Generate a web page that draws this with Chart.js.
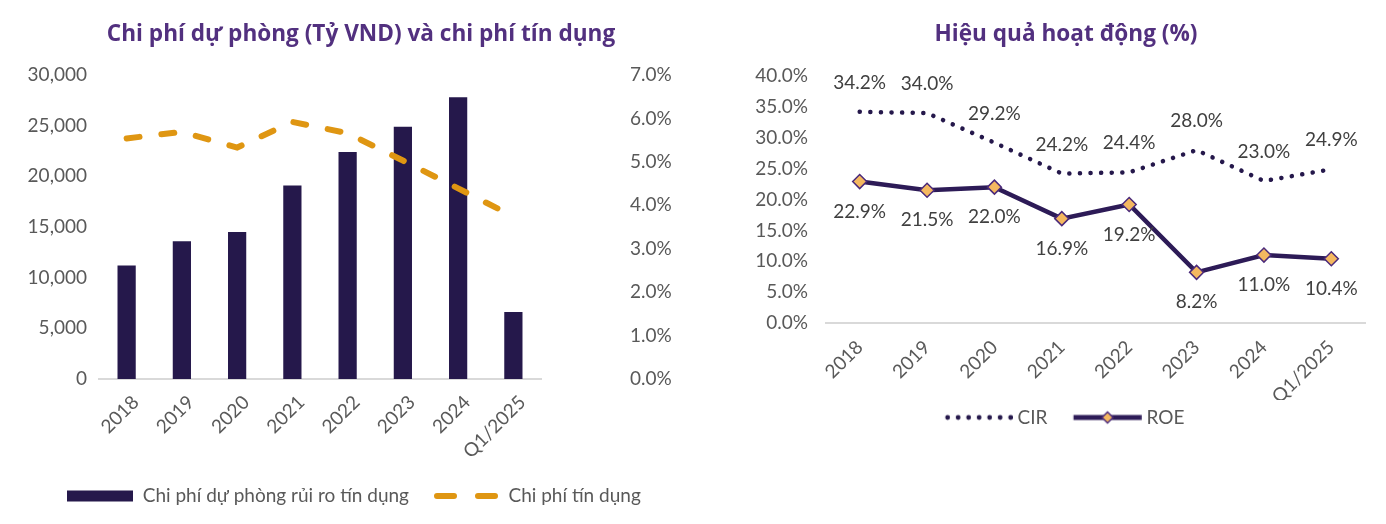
<!DOCTYPE html>
<html>
<head>
<meta charset="utf-8">
<script src="https://cdn.jsdelivr.net/npm/chart.js@4"></script>
<style>
  body { margin: 0; background: #fff; overflow: hidden; }
  .box { position: absolute; top: 0; height: 524px; }
  #left { left: 0; width: 721px; }
  #right { left: 746px; width: 640px; }
  .title {
    position: absolute; top: 20px; transform: translateX(-50%); white-space: nowrap;
    font: bold 22.6px/26px 'Open Sans', sans-serif; color: #52307F;
  }
</style>
</head>
<body>
<div class="box" id="left"><canvas id="costChart"></canvas></div>
<div class="box" id="right"><canvas id="perfChart"></canvas></div>
<div class="title" style="left:361px">Chi phí dự phòng (Tỷ VND) và chi phí tín dụng</div>
<div class="title" style="left:1066px">Hiệu quả hoạt động (%)</div>
<script>
// data
const years = ['2018', '2019', '2020', '2021', '2022', '2023', '2024', 'Q1/2025'];
const provisionCost = [11200, 13600, 14500, 19100, 22400, 24900, 27800, 6600]; // ty VND
const creditCost = [5.54, 5.69, 5.33, 5.92, 5.66, 5.03, 4.39, 3.74]; // %
const cir = [34.2, 34.0, 29.2, 24.2, 24.4, 28.0, 23.0, 24.9];
const roe = [22.9, 21.5, 22.0, 16.9, 19.2, 8.2, 11.0, 10.4];

const navy = '#25184B';
const gold = '#DF9612';

Chart.defaults.font.family = 'Lato';
Chart.defaults.font.size = 19;
Chart.defaults.color = '#595959';

// legend icons: Chart.js centres the canvas on the legend box,
// so make it wide enough to put the drawing at startX..startX+w inside a box of boxW
function legendIcon(boxW, startX, w, h, draw) {
  let half = Math.max(boxW / 2 - startX, startX + w - boxW / 2);
  let c = document.createElement('canvas');
  c.width = Math.ceil(half * 2); c.height = h;
  let ctx = c.getContext('2d');
  ctx.translate(c.width / 2 - boxW / 2 + startX, 0);
  draw(ctx);
  return c;
}
let barIcon = legendIcon(66, 0, 66, 12, ctx => { ctx.fillStyle = navy; ctx.fillRect(0, 0.5, 66, 11); });
let dashIcon = legendIcon(66, 0, 66, 12, ctx => {
  ctx.strokeStyle = gold; ctx.lineWidth = 6; ctx.lineCap = 'round';
  ctx.beginPath(); ctx.moveTo(4, 6); ctx.lineTo(21, 6); ctx.moveTo(45, 6); ctx.lineTo(62, 6); ctx.stroke();
});
const rBox = 81.5;
let dotIcon = legendIcon(rBox, 18, 68, 12, ctx => {
  ctx.fillStyle = navy;
  for (let i = 0; i < 7; i++) { ctx.beginPath(); ctx.arc(3 + i * 10.5, 6, 2.4, 0, Math.PI * 2); ctx.fill(); }
});
let roeIcon = legendIcon(rBox, 18, 68, 16, ctx => {
  ctx.strokeStyle = '#2D1B57'; ctx.lineWidth = 5;
  ctx.beginPath(); ctx.moveTo(0, 8); ctx.lineTo(68, 8); ctx.stroke();
  ctx.fillStyle = '#F4B860'; ctx.strokeStyle = '#4B2A7B'; ctx.lineWidth = 1.5;
  ctx.beginPath(); ctx.moveTo(34, 2.5); ctx.lineTo(39.5, 8); ctx.lineTo(34, 13.5); ctx.lineTo(28.5, 8); ctx.closePath();
  ctx.fill(); ctx.stroke();
});

function legendWith(icons) {
  return chart => chart.data.datasets.map((ds, i) => ({
    text: ds.label, pointStyle: icons[i], datasetIndex: i, hidden: false, lineWidth: 0,
    fontColor: '#595959'
  }));
}

// value labels next to the points
const pointLabels = {
  id: 'pointLabels',
  afterDatasetsDraw(chart) {
    const ctx = chart.ctx;
    ctx.save();
    ctx.font = '19px Lato';
    ctx.fillStyle = '#404040';
    ctx.textAlign = 'center';
    ctx.textBaseline = 'middle';
    chart.data.datasets.forEach((ds, i) => {
      if (ds.labelShift === undefined) return;
      chart.getDatasetMeta(i).data.forEach((pt, j) => {
        ctx.fillText(ds.data[j].toFixed(1) + '%', pt.x, pt.y + ds.labelShift);
      });
    });
    ctx.restore();
  }
};

new Chart(document.getElementById('costChart'), {
  data: {
    labels: years,
    datasets: [
      {
        type: 'line', label: 'Chi phí tín dụng', data: creditCost, yAxisID: 'y1',
        borderColor: gold, borderWidth: 6, borderDash: [13, 22], borderCapStyle: 'round',
        pointRadius: 0, tension: 0, order: 0
      },
      {
        type: 'bar', label: 'Chi phí dự phòng rủi ro tín dụng', data: provisionCost, yAxisID: 'y',
        backgroundColor: navy, barPercentage: 0.33, categoryPercentage: 1, order: 1
      }
    ]
  },
  options: {
    responsive: true, maintainAspectRatio: false, animation: false,
    layout: { padding: { left: 0, right: 13, top: 75, bottom: 8.5 } },
    plugins: {
      legend: {
        position: 'bottom',
        labels: {
          usePointStyle: true, pointStyleWidth: 66, padding: 24,
          generateLabels: chart => {
            let items = legendWith([dashIcon, barIcon])(chart);
            return [items[1], items[0]];
          }
        }
      },
      tooltip: { enabled: false }
    },
    scales: {
      x: {
        grid: { display: false, drawTicks: false },
        border: { display: true, color: '#D9D9D9', width: 2 },
        ticks: { minRotation: 45, maxRotation: 45, padding: 12, labelOffset: 9 },
        afterFit: s => { s.height = 83.5; }
      },
      y: {
        position: 'left', min: 0, max: 30000,
        grid: { display: false, drawTicks: false }, border: { display: false },
        ticks: { stepSize: 5000, padding: 12, callback: v => v.toLocaleString('en-US') },
        afterFit: s => { s.width = 99; }
      },
      y1: {
        position: 'right', min: 0, max: 7,
        grid: { display: false, drawTicks: false }, border: { display: false },
        ticks: { stepSize: 1, padding: 89, callback: v => v.toFixed(1) + '%' },
        afterFit: s => { s.width = 167; s.paddingTop = 10; s.paddingBottom = 10; }
      }
    }
  }
});

new Chart(document.getElementById('perfChart'), {
  type: 'line',
  data: {
    labels: years,
    datasets: [
      {
        label: 'CIR', data: cir, borderColor: navy, borderWidth: 4.5,
        borderDash: [0.1, 10.5], borderCapStyle: 'round', pointRadius: 0, tension: 0,
        labelShift: -29
      },
      {
        label: 'ROE', data: roe, borderColor: '#2D1B57', borderWidth: 4.5, tension: 0,
        pointStyle: 'rectRot', pointRadius: 7, pointBackgroundColor: '#F4B860',
        pointBorderColor: '#4B2A7B', pointBorderWidth: 1.5, labelShift: 30
      }
    ]
  },
  options: {
    responsive: true, maintainAspectRatio: false, animation: false,
    layout: { padding: { left: 0, right: 21, top: 76, bottom: 87 } },
    plugins: {
      legend: {
        position: 'bottom',
        labels: {
          usePointStyle: true, pointStyleWidth: rBox, padding: 8,
          generateLabels: legendWith([dotIcon, roeIcon])
        }
      },
      tooltip: { enabled: false }
    },
    scales: {
      x: {
        offset: true,
        grid: { display: false, drawTicks: false },
        border: { display: true, color: '#D9D9D9', width: 2 },
        ticks: { minRotation: 45, maxRotation: 45, padding: 13 },
        afterFit: s => { s.height = 77; }
      },
      y: {
        min: 0, max: 40,
        grid: { display: false, drawTicks: false }, border: { display: false },
        ticks: { stepSize: 5, padding: 18, callback: v => v.toFixed(1) + '%' },
        afterFit: s => { s.width = 80; }
      }
    }
  },
  plugins: [pointLabels]
});
</script>
</body>
</html>
